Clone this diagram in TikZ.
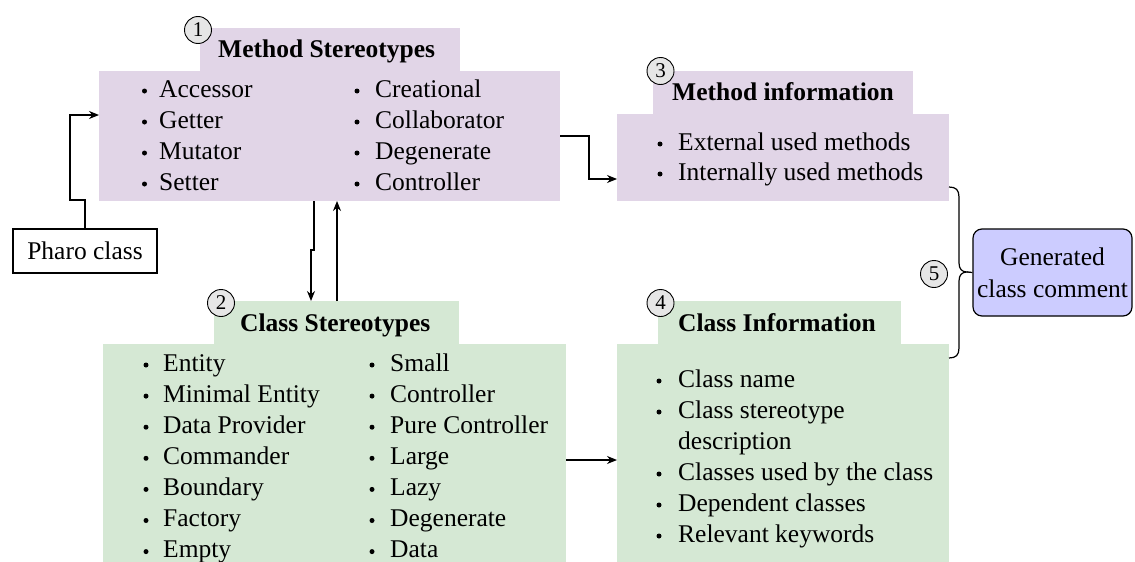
\documentclass[tikz,border=0pt]{standalone}
\usepackage{fontspec}
\setmainfont{Liberation Serif}
\usetikzlibrary{arrows.meta}
\definecolor{purp}{HTML}{E1D5E7}
\definecolor{grn}{HTML}{D5E8D4}
\definecolor{genc}{HTML}{CCCCFF}
\definecolor{numfill}{HTML}{E6E6E6}
\begin{document}
\begin{tikzpicture}[x=1pt,y=-1pt,
  panel/.style={rectangle, inner sep=0pt, outer sep=0pt, draw=none},
  item/.style={anchor=base west, inner sep=0pt, font=\fontsize{25.5}{31}\selectfont},
  ttl/.style={anchor=base west, inner sep=0pt, font=\fontsize{25.5}{31}\selectfont\bfseries},
  numc/.style={circle, draw, fill=numfill, minimum size=27pt, inner sep=0pt, line width=0.9pt, font=\fontsize{21}{21}\selectfont},
  arr/.style={draw, line width=1.2pt, -{Stealth[length=10pt,width=8pt]}},
  plain/.style={draw, line width=1.2pt},
]
\useasboundingbox (0,0) rectangle (1135,562);

% Method Stereotypes panel
\node[panel, fill=purp, minimum width=260pt, minimum height=44pt] (msT) at (330,50) {};
\node[panel, fill=purp, minimum width=461pt, minimum height=130pt] (ms) at (329.5,136) {};
% Class Stereotypes panel
\node[panel, fill=grn, minimum width=245pt, minimum height=44pt] (csT) at (336.5,323) {};
\node[panel, fill=grn, minimum width=463pt, minimum height=218pt] (cs) at (334.5,453) {};
% Method information panel
\node[panel, fill=purp, minimum width=260pt, minimum height=44pt] (miT) at (783,93) {};
\node[panel, fill=purp, minimum width=332pt, minimum height=87pt] (mi) at (783,157.5) {};
% Class Information panel
\node[panel, fill=grn, minimum width=243pt, minimum height=44pt] (ciT) at (779.5,323) {};
\node[panel, fill=grn, minimum width=332pt, minimum height=218pt] (ci) at (783,453) {};

% Titles
\node[ttl] (msTitle) at (218,57) {Method Stereotypes};
\node[ttl] (csTitle) at (240,331) {Class Stereotypes};
\node[ttl] (miTitle) at (672,100) {Method information};
\node[ttl] (ciTitle) at (678,331) {Class Information};

% Method stereotypes items
\foreach \t [count=\i] in {Accessor,Getter,Mutator,Setter} {
  \node[item] (msa\i) at (159,{97+31*(\i-1)}) {\t};
  \fill (144.5,{97+31*(\i-1)-6}) circle (2.5pt);
}
\foreach \t [count=\i] in {Creational,Collaborator,Degenerate,Controller} {
  \node[item] (msb\i) at (375,{97+31*(\i-1)}) {\t};
  \fill (357,{97+31*(\i-1)-6}) circle (2.5pt);
}
% Class stereotypes items
\foreach \t [count=\i] in {Entity,Minimal Entity,Data Provider,Commander,Boundary,Factory,Empty} {
  \node[item] (csa\i) at (163,{371+31.1*(\i-1)}) {\t};
  \fill (146,{371+31.1*(\i-1)-6}) circle (2.5pt);
}
\foreach \t [count=\i] in {Small,Controller,Pure Controller,Large,Lazy,Degenerate,Data} {
  \node[item] (csb\i) at (390,{371+31.1*(\i-1)}) {\t};
  \fill (372,{371+31.1*(\i-1)-6}) circle (2.5pt);
}
% Method information items
\node[item] (mi1) at (678,150) {External used methods};
\fill (660,144) circle (2.5pt);
\node[item] (mi2) at (678,180) {Internally used methods};
\fill (660,174) circle (2.5pt);
% Class information items
\node[item] (ci1) at (678,387) {Class name};
\fill (659,381) circle (2.5pt);
\node[item] (ci2) at (678,418) {Class stereotype};
\fill (659,412) circle (2.5pt);
\node[item] (ci2b) at (678,449) {description};
\node[item] (ci3) at (678,480) {Classes used by the class};
\fill (659,474) circle (2.5pt);
\node[item] (ci4) at (678,511) {Dependent classes};
\fill (659,505) circle (2.5pt);
\node[item] (ci5) at (678,542) {Relevant keywords};
\fill (659,536) circle (2.5pt);

% Number circles
\node[numc] (n1) at (198,30) {1};
\node[numc] (n2) at (221,303) {2};
\node[numc] (n3) at (660.5,71) {3};
\node[numc] (n4) at (660.5,303) {4};
\node[numc] (n5) at (934,274) {5};

% Pharo class
\node[draw, line width=1.2pt, minimum width=144pt, minimum height=44pt, inner sep=0pt,
      font=\fontsize{25.5}{31}\selectfont] (pharo) at (85,251) {Pharo class};

% Generated class comment
\node[draw, line width=1.2pt, fill=genc, rounded corners=9pt, minimum width=159pt, minimum height=87pt,
      inner sep=0pt, align=center, font=\fontsize{25.5}{32}\selectfont] (gen) at (1052.5,272.5) {Generated\\class comment};

% Connectors
\draw[arr] (pharo.north) -- (85,200) -| (70,115) -- (ms.west |- 0,115);
\draw[arr] (ms.south -| 314,0) -- (314,250) -- (311,250) -- (csT.north -| 311,0);
\draw[arr] (csT.north -| 337,0) -- (ms.south -| 337,0);
\draw[arr] (ms.east) -| (589,179) -- (mi.west |- 0,179);
\draw[arr] (cs.east |- 0,460) -- (ci.west |- 0,460);

% Brace
\coordinate (bTop) at (949,187);
\coordinate (bBot) at (949,358);
\coordinate (bTip) at (967,272);
\draw[plain] (bTop) .. controls (956,187) and (959,190) .. (959,197) -- (959,263)
  .. controls (959,269) and (962,272) .. (bTip)
  .. controls (962,272) and (959,275) .. (959,281) -- (959,348)
  .. controls (959,355) and (956,358) .. (bBot);
\draw[plain] (bTip) -- (gen.west);
\end{tikzpicture}
\end{document}
